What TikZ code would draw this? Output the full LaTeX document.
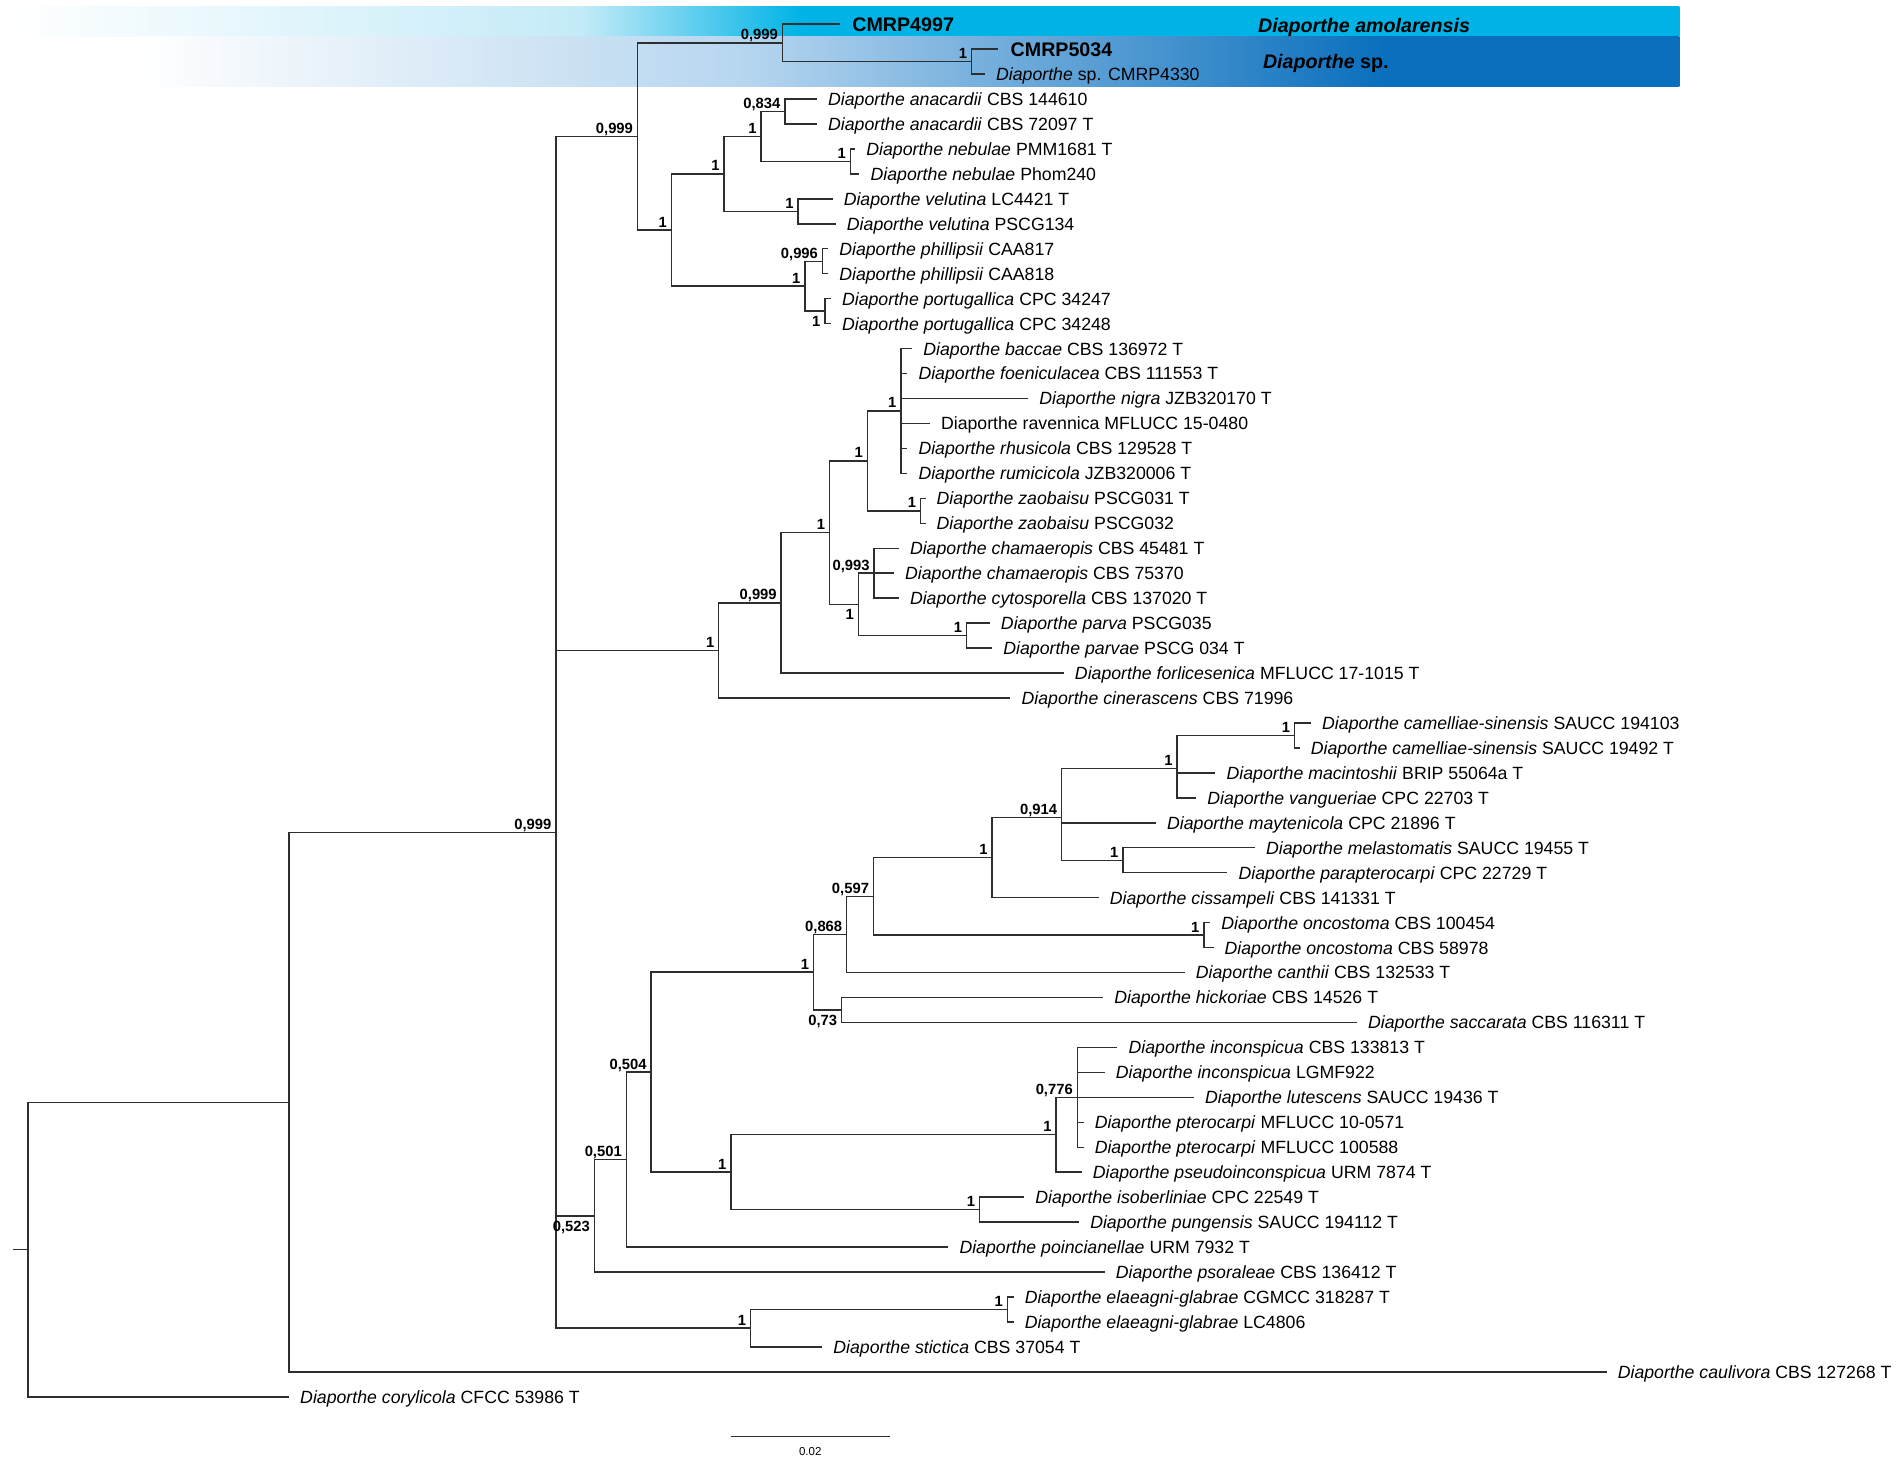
\documentclass[tikz,border=0pt]{standalone}
\usepackage{fontspec}
\setmainfont{Liberation Sans}
\definecolor{treeline}{HTML}{2E2E2E}
\definecolor{bandA}{HTML}{00B3E6}
\definecolor{bandAlt}{HTML}{C4EBF8}
\definecolor{bandB}{HTML}{0A6FBD}
\definecolor{bandBlt}{HTML}{B5D5EF}
\pgfdeclarehorizontalshading{bandone}{100bp}{color(0bp)=(white); color(25bp)=(white); color(42.2bp)=(bandAlt); color(48.75bp)=(bandA); color(100bp)=(bandA)}
\pgfdeclarehorizontalshading{bandtwo}{100bp}{color(0bp)=(white); color(25bp)=(white); color(44.9bp)=(bandBlt); color(65.35bp)=(bandB); color(100bp)=(bandB)}
\newcommand\leaffont{\fontsize{14.6}{16}\selectfont}
\newcommand\probfont{\bfseries\fontsize{12.2}{14}\selectfont}
\newcommand\cladefont{\bfseries\fontsize{16.2}{18}\selectfont}
\newcommand\scalefont{\fontsize{9.5}{11}\selectfont}
\newcommand\dia[1]{\textit{Diaporthe #1}}
\begin{document}
\begin{tikzpicture} [
   x=1pt, y=-20.575pt,
   twig/.style={draw=treeline, line width=1.2pt, to path={|- (\tikztotarget)}},
   leaf/.style={anchor=west, inner xsep=9pt, inner ysep=0pt, text height=12pt, text depth=1.4pt, font=\leaffont},
   leafbold/.style={leaf, inner xsep=10pt, text height=14pt, font=\cladefont},
   cladename/.style={anchor=west, inner sep=0pt, text height=14pt, text depth=1.4pt, font=\cladefont},
   prob/.style={anchor=base east, inner sep=0pt, xshift=-3.5pt, yshift=2.5pt, font=\probfont},
   probb/.style={anchor=north east, inner sep=0pt, xshift=-3.5pt, yshift=-4pt, font=\probfont}
]
   \useasboundingbox (0,-0.9672) rectangle (1568,57.613);
   % coloured bands behind the new species
   \shade[shading=bandone] (5,-0.7145) rectangle (1384.5,0.5006);
   \shade[shading=bandtwo] (115,0.5006) rectangle (1384.5,2.4836);
   \node (amol) [cladename] at (1037,0.034) {\textit{Diaporthe amolarensis}};
   \node (dsp) [cladename] at (1041,1.463) {\textit{Diaporthe} sp.};

   % internal nodes
   \coordinate (stub) at (10.4,49.0995);
   \coordinate (root) at (23.1,49.0995);
   \coordinate (A) at (238.3,43.199);
   \coordinate (B) at (458.2,32.398);
   \coordinate (T0) at (525.5,4.5);
   \coordinate (CM) at (645,0.75);
   \coordinate (CM2) at (801,1.5);
   \coordinate (T1) at (553.5,8.25);
   \coordinate (T2) at (597,6);
   \coordinate (T3) at (627.5,4.5);
   \coordinate (T4) at (647,3.5);
   \coordinate (T5) at (701,5.5);
   \coordinate (T6) at (658,7.5);
   \coordinate (T7) at (663.5,10.5);
   \coordinate (T8) at (678,9.5);
   \coordinate (T9) at (680,11.5);
   \coordinate (M0) at (592.5,25.094);
   \coordinate (M1) at (644,23.188);
   \coordinate (M2) at (684,20.375);
   \coordinate (M3) at (715,17.5);
   \coordinate (M4) at (742.7,15.5);
   \coordinate (M5) at (759,19.5);
   \coordinate (M6) at (707.7,23.25);
   \coordinate (M7) at (720.6,22);
   \coordinate (M8) at (796.8,24.5);
   \coordinate (N523) at (490,47.748);
   \coordinate (N501) at (516.3,45.4965);
   \coordinate (N504) at (536.8,41.993);
   \coordinate (N1) at (670.7,37.986);
   \coordinate (N868) at (698,36.472);
   \coordinate (N597) at (720.1,34.944);
   \coordinate (N1a) at (817.9,33.389);
   \coordinate (N914) at (875.2,31.778);
   \coordinate (N1b) at (970.4,29.833);
   \coordinate (C1) at (1067.2,28.5);
   \coordinate (C2) at (925.7,33.5);
   \coordinate (ONC) at (992.5,36.5);
   \coordinate (N073) at (693.8,39.5);
   \coordinate (P4) at (602.5,46);
   \coordinate (P2) at (870.7,44.5);
   \coordinate (P1) at (888.1,43);
   \coordinate (P3) at (807.6,47.5);
   \coordinate (S1) at (618.8,52.25);
   \coordinate (E1) at (830.5,51.5);

   % leaves
   \node (L0) [leafbold] at (692.5,0) {CMRP4997};
   \node (L1) [leafbold] at (823,1) {CMRP5034};
   \node (L2) [leaf] at (812,2) {\textit{Diaporthe} sp. CMRP4330};
   \node (L3) [leaf] at (673.5,3) {\dia{anacardii} CBS 144610};
   \node (L4) [leaf] at (673.5,4) {\dia{anacardii} CBS 72097 T};
   \node (L5) [leaf] at (705,5) {\dia{nebulae} PMM1681 T};
   \node (L6) [leaf] at (708.5,6) {\dia{nebulae} Phom240};
   \node (L7) [leaf] at (686.4,7) {\dia{velutina} LC4421 T};
   \node (L8) [leaf] at (689,8) {\dia{velutina} PSCG134};
   \node (L9) [leaf] at (682.7,9) {\dia{phillipsii} CAA817};
   \node (L10) [leaf] at (682.7,10) {\dia{phillipsii} CAA818};
   \node (L11) [leaf] at (685,11) {\dia{portugallica} CPC 34247};
   \node (L12) [leaf] at (685,12) {\dia{portugallica} CPC 34248};
   \node (L13) [leaf] at (752,13) {\dia{baccae} CBS 136972 T};
   \node (L14) [leaf] at (748,14) {\dia{foeniculacea} CBS 111553 T};
   \node (L15) [leaf] at (847.6,15) {\dia{nigra} JZB320170 T};
   \node (L16) [leaf] at (766.6,16) {Diaporthe ravennica MFLUCC 15-0480};
   \node (L17) [leaf] at (748,17) {\dia{rhusicola} CBS 129528 T};
   \node (L18) [leaf] at (748,18) {\dia{rumicicola} JZB320006 T};
   \node (L19) [leaf] at (763,19) {\dia{zaobaisu} PSCG031 T};
   \node (L20) [leaf] at (763,20) {\dia{zaobaisu} PSCG032};
   \node (L21) [leaf] at (741,21) {\dia{chamaeropis} CBS 45481 T};
   \node (L22) [leaf] at (737,22) {\dia{chamaeropis} CBS 75370};
   \node (L23) [leaf] at (741,23) {\dia{cytosporella} CBS 137020 T};
   \node (L24) [leaf] at (816,24) {\dia{parva} PSCG035};
   \node (L25) [leaf] at (818,25) {\dia{parvae} PSCG 034 T};
   \node (L26) [leaf] at (877,26) {\dia{forlicesenica} MFLUCC 17-1015 T};
   \node (L27) [leaf] at (833,27) {\dia{cinerascens} CBS 71996};
   \node (L28) [leaf] at (1080.8,28) {\dia{camelliae-sinensis} SAUCC 194103};
   \node (L29) [leaf] at (1071.4,29) {\dia{camelliae-sinensis} SAUCC 19492 T};
   \node (L30) [leaf] at (1002,30) {\dia{macintoshii} BRIP 55064a T};
   \node (L31) [leaf] at (986.2,31) {\dia{vangueriae} CPC 22703 T};
   \node (L32) [leaf] at (953,32) {\dia{maytenicola} CPC 21896 T};
   \node (L33) [leaf] at (1034.6,33) {\dia{melastomatis} SAUCC 19455 T};
   \node (L34) [leaf] at (1011.9,34) {\dia{parapterocarpi} CPC 22729 T};
   \node (L35) [leaf] at (905.7,35) {\dia{cissampeli} CBS 141331 T};
   \node (L36) [leaf] at (997.7,36) {\dia{oncostoma} CBS 100454};
   \node (L37) [leaf] at (1000.4,37) {\dia{oncostoma} CBS 58978};
   \node (L38) [leaf] at (976.7,38) {\dia{canthii} CBS 132533 T};
   \node (L39) [leaf] at (909.4,39) {\dia{hickoriae} CBS 14526 T};
   \node (L40) [leaf] at (1118.7,40) {\dia{saccarata} CBS 116311 T};
   \node (L41) [leaf] at (921.2,41) {\dia{inconspicua} CBS 133813 T};
   \node (L42) [leaf] at (910.7,42) {\dia{inconspicua} LGMF922};
   \node (L43) [leaf] at (984.3,43) {\dia{lutescens} SAUCC 19436 T};
   \node (L44) [leaf] at (893.3,44) {\dia{pterocarpi} MFLUCC 10-0571};
   \node (L45) [leaf] at (893.3,45) {\dia{pterocarpi} MFLUCC 100588};
   \node (L46) [leaf] at (891.7,46) {\dia{pseudoinconspicua} URM 7874 T};
   \node (L47) [leaf] at (844.4,47) {\dia{isoberliniae} CPC 22549 T};
   \node (L48) [leaf] at (889.6,48) {\dia{pungensis} SAUCC 194112 T};
   \node (L49) [leaf] at (781.8,49) {\dia{poincianellae} URM 7932 T};
   \node (L50) [leaf] at (910.7,50) {\dia{psoraleae} CBS 136412 T};
   \node (L51) [leaf] at (835.6,51) {\dia{elaeagni-glabrae} CGMCC 318287 T};
   \node (L52) [leaf] at (835.6,52) {\dia{elaeagni-glabrae} LC4806};
   \node (L53) [leaf] at (677.8,53) {\dia{stictica} CBS 37054 T};
   \node (L54) [leaf] at (1324.5,54) {\dia{caulivora} CBS 127268 T};
   \node (L55) [leaf] at (238.3,55) {\dia{corylicola} CFCC 53986 T};

   % branches
   \path (stub) edge [twig] (root)
         (root) edge [twig] (A)
                edge [twig] (L55.west)
         (A) edge [twig] (B)
             edge [twig] (L54.west)
         (B) edge [twig] (T0)
             edge [twig] (M0)
             edge [twig] (N523)
             edge [twig] (S1);
   \path (T0) edge [twig] (CM)
              edge [twig] (T1)
         (CM) edge [twig] (L0.west)
              edge [twig] (CM2)
         (CM2) edge [twig] (L1.west)
               edge [twig] (L2.west)
         (T1) edge [twig] (T2)
              edge [twig] (T7)
         (T2) edge [twig] (T3)
              edge [twig] (T6)
         (T3) edge [twig] (T4)
              edge [twig] (T5)
         (T4) edge [twig] (L3.west)
              edge [twig] (L4.west)
         (T5) edge [twig] (L5.west)
              edge [twig] (L6.west)
         (T6) edge [twig] (L7.west)
              edge [twig] (L8.west)
         (T7) edge [twig] (T8)
              edge [twig] (T9)
         (T8) edge [twig] (L9.west)
              edge [twig] (L10.west)
         (T9) edge [twig] (L11.west)
              edge [twig] (L12.west);
   \path (M0) edge [twig] (M1)
              edge [twig] (L27.west)
         (M1) edge [twig] (M2)
              edge [twig] (L26.west)
         (M2) edge [twig] (M3)
              edge [twig] (M6)
         (M3) edge [twig] (M4)
              edge [twig] (M5)
         (M4) edge [twig] (L13.west)
              edge [twig] (L14.west)
              edge [twig] (L15.west)
              edge [twig] (L16.west)
              edge [twig] (L17.west)
              edge [twig] (L18.west)
         (M5) edge [twig] (L19.west)
              edge [twig] (L20.west)
         (M6) edge [twig] (M7)
              edge [twig] (M8)
         (M7) edge [twig] (L21.west)
              edge [twig] (L22.west)
              edge [twig] (L23.west)
         (M8) edge [twig] (L24.west)
              edge [twig] (L25.west);
   \path (N523) edge [twig] (N501)
                edge [twig] (L50.west)
         (N501) edge [twig] (N504)
                edge [twig] (L49.west)
         (N504) edge [twig] (N1)
                edge [twig] (P4)
         (N1) edge [twig] (N868)
              edge [twig] (N073)
         (N868) edge [twig] (N597)
                edge [twig] (L38.west)
         (N597) edge [twig] (N1a)
                edge [twig] (ONC)
         (N1a) edge [twig] (N914)
               edge [twig] (L35.west)
         (N914) edge [twig] (N1b)
                edge [twig] (L32.west)
                edge [twig] (C2)
         (N1b) edge [twig] (C1)
               edge [twig] (L30.west)
               edge [twig] (L31.west)
         (C1) edge [twig] (L28.west)
              edge [twig] (L29.west)
         (C2) edge [twig] (L33.west)
              edge [twig] (L34.west)
         (ONC) edge [twig] (L36.west)
               edge [twig] (L37.west)
         (N073) edge [twig] (L39.west)
                edge [twig] (L40.west)
         (P4) edge [twig] (P2)
              edge [twig] (P3)
         (P2) edge [twig] (P1)
              edge [twig] (L46.west)
         (P1) edge [twig] (L41.west)
              edge [twig] (L42.west)
              edge [twig] (L43.west)
              edge [twig] (L44.west)
              edge [twig] (L45.west)
         (P3) edge [twig] (L47.west)
              edge [twig] (L48.west)
         (S1) edge [twig] (E1)
              edge [twig] (L53.west)
         (E1) edge [twig] (L51.west)
              edge [twig] (L52.west);

   % posterior probabilities
   \node (pB) [prob] at (B) {0,999};
   \node (pT0) [prob] at (T0) {0,999};
   \node (pCM) [prob] at (CM) {0,999};
   \node (pCM2) [prob] at (CM2) {1};
   \node (pT1) [prob] at (T1) {1};
   \node (pT2) [prob] at (T2) {1};
   \node (pT3) [prob] at (T3) {1};
   \node (pT4) [prob] at (T4) {0,834};
   \node (pT5) [prob] at (T5) {1};
   \node (pT6) [prob] at (T6) {1};
   \node (pT7) [prob] at (T7) {1};
   \node (pT8) [prob] at (T8) {0,996};
   \node (pT9) [probb] at (T9) {1};
   \node (pM0) [prob] at (M0) {1};
   \node (pM1) [prob] at (M1) {0,999};
   \node (pM2) [prob] at (M2) {1};
   \node (pM3) [prob] at (M3) {1};
   \node (pM4) [prob] at (M4) {1};
   \node (pM5) [prob] at (M5) {1};
   \node (pM6) [probb] at (M6) {1};
   \node (pM7) [prob] at (M7) {0,993};
   \node (pM8) [prob] at (M8) {1};
   \node (pN523) [probb] at (N523) {0,523};
   \node (pN501) [prob] at (N501) {0,501};
   \node (pN504) [prob] at (N504) {0,504};
   \node (pN1) [prob] at (N1) {1};
   \node (pN868) [prob] at (N868) {0,868};
   \node (pN597) [prob] at (N597) {0,597};
   \node (pN1a) [prob] at (N1a) {1};
   \node (pN914) [prob] at (N914) {0,914};
   \node (pN1b) [prob] at (N1b) {1};
   \node (pC1) [prob] at (C1) {1};
   \node (pC2) [prob] at (C2) {1};
   \node (pONC) [prob] at (ONC) {1};
   \node (pN073) [probb] at (N073) {0,73};
   \node (pP4) [prob] at (P4) {1};
   \node (pP2) [prob] at (P2) {1};
   \node (pP1) [prob] at (P1) {0,776};
   \node (pP3) [prob] at (P3) {1};
   \node (pS1) [prob] at (S1) {1};
   \node (pE1) [prob] at (E1) {1};

   % scale bar
   \coordinate (sb0) at (602.6,56.597);
   \coordinate (sb1) at (733.3,56.597);
   \draw [treeline, line width=1.2pt] (sb0) -- (sb1);
   \node (sbl) [font=\scalefont, inner sep=0pt] at (668,57.2) {0.02};
\end{tikzpicture}
\end{document}
